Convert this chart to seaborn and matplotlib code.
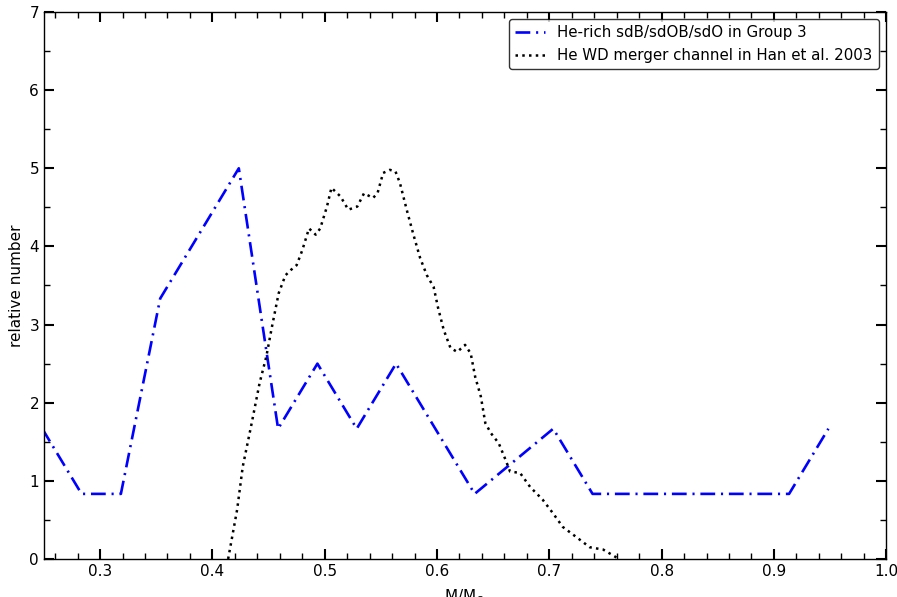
import pandas as pd
import matplotlib.pyplot as plt
import seaborn as sns
from matplotlib.ticker import MultipleLocator

# He-rich sdB/sdOB/sdO in Group 3 (vertices of the polyline)
grp_mass = [0.2485, 0.2835, 0.3185, 0.3535, 0.4235, 0.4585, 0.4935, 0.5285, 0.5635,
            0.6335, 0.7035, 0.7385, 0.9135, 0.9485]
grp_num = [1.667, 0.833, 0.833, 3.333, 5.0, 1.667, 2.5, 1.667, 2.5,
           0.833, 1.667, 0.833, 0.833, 1.667]

# He WD merger channel, Han et al. 2003
han_mass = [0.414, 0.422, 0.427, 0.435, 0.442, 0.448, 0.453, 0.459, 0.465, 0.470,
            0.475, 0.480, 0.486, 0.492, 0.496, 0.502, 0.506, 0.514, 0.521, 0.529,
            0.535, 0.543, 0.547, 0.552, 0.558, 0.563, 0.567, 0.573, 0.579, 0.585,
            0.591, 0.597, 0.601, 0.606, 0.612, 0.618, 0.625, 0.630, 0.634, 0.639,
            0.643, 0.648, 0.655, 0.661, 0.665, 0.674, 0.683, 0.694, 0.703, 0.712,
            0.725, 0.736, 0.748, 0.762]
han_num = [0.0, 0.63, 1.18, 1.74, 2.25, 2.59, 2.97, 3.40, 3.63, 3.70,
           3.76, 3.95, 4.23, 4.15, 4.23, 4.51, 4.75, 4.64, 4.47, 4.51,
           4.68, 4.62, 4.68, 4.94, 4.98, 4.96, 4.81, 4.47, 4.15, 3.85,
           3.63, 3.48, 3.21, 2.93, 2.70, 2.65, 2.74, 2.63, 2.33, 2.08,
           1.74, 1.61, 1.48, 1.27, 1.12, 1.10, 0.92, 0.76, 0.59, 0.41,
           0.27, 0.15, 0.12, 0.0]

grp = pd.DataFrame({'mass': grp_mass, 'num': grp_num})
han = pd.DataFrame({'mass': han_mass, 'num': han_num})

sns.set_style('ticks')
plt.rcParams['font.family'] = ['DejaVu Sans']
plt.rcParams['text.color'] = 'black'
plt.rcParams['axes.labelcolor'] = 'black'

fig = plt.figure(figsize=(8.97, 5.97), dpi=100)
ax = fig.add_axes([0.049, 0.0637, 0.939, 0.9162])

sns.lineplot(x='mass', y='num', data=grp, ax=ax, color='blue', linestyle=(0, (5.6, 2.2, 0.8, 2.2)),
             linewidth=1.9, sort=False, label='He-rich sdB/sdOB/sdO in Group 3')
sns.lineplot(x='mass', y='num', data=han, ax=ax, color='black', linestyle=(0, (1, 1.7)),
             linewidth=1.8, sort=False, label='He WD merger channel in Han et al. 2003')
for ln in ax.lines:
    ln.set_dash_capstyle('butt')

ax.set_xlim(0.25, 1.0)
ax.set_ylim(0, 7)
ax.xaxis.set_major_locator(MultipleLocator(0.1))
ax.xaxis.set_minor_locator(MultipleLocator(0.02))
ax.yaxis.set_major_locator(MultipleLocator(1))
ax.yaxis.set_minor_locator(MultipleLocator(0.5))
ax.tick_params(which='both', direction='in', top=True, right=True, labelsize=11, colors='black')
ax.tick_params(which='major', length=7, width=1.5)
ax.tick_params(which='minor', length=4, width=1)
for s in ax.spines.values():
    s.set_color('black')
    s.set_linewidth(1)

ax.set_xlabel(r'M/M$_{\odot}$', fontsize=11, labelpad=6)
ax.set_ylabel('relative number', fontsize=11)

leg = ax.legend(loc='upper right', fontsize=10.8, frameon=True, fancybox=True)
leg.get_frame().set_edgecolor('black')

fig.savefig('out.png', dpi=100)
